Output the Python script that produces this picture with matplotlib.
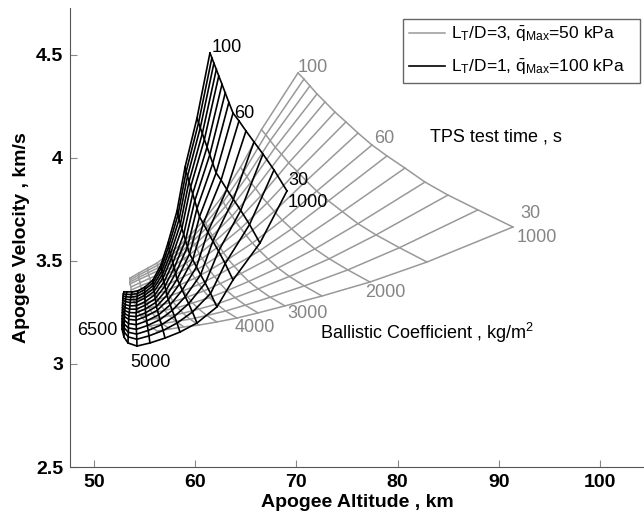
import numpy as np
import matplotlib
matplotlib.use('Agg')
import matplotlib.pyplot as plt
from matplotlib.lines import Line2D

plt.rcParams['font.family'] = ['Liberation Sans', 'DejaVu Sans']
plt.rcParams['mathtext.fontset'] = 'custom'
plt.rcParams['mathtext.rm'] = 'Liberation Sans'
plt.rcParams['mathtext.it'] = 'Liberation Sans'
plt.rcParams['mathtext.bf'] = 'Liberation Sans:bold'

# Carpet parameters.
tps_time = [30, 35, 40, 45, 50, 55, 60, 65, 70, 75, 80, 85, 90, 95, 100]
ballistic = [1000, 1500, 2000, 2500, 3000, 3500, 4000, 4500, 5000, 5500, 6000, 6500]

# Gray carpet (LT/D=3, q=50 kPa), edges.
# beta = 1000 edge, over tps_time
g_b1000_alt = [91.40, 87.94, 84.98, 82.71, 80.73, 78.95, 77.47, 76.09, 74.90, 73.81, 72.83, 72.04, 71.34, 70.75, 70.16]
g_b1000_vel = [3.665, 3.748, 3.820, 3.883, 3.951, 4.010, 4.063, 4.121, 4.175, 4.223, 4.272, 4.311, 4.350, 4.383, 4.413]
# beta = 6500 edge, over tps_time
g_b6500_alt = [56.23, 55.53, 55.04, 54.64, 54.35, 54.15, 53.95, 53.85, 53.75, 53.66, 53.66, 53.56, 53.56, 53.56, 53.56]
g_b6500_vel = [3.160, 3.184, 3.209, 3.233, 3.257, 3.282, 3.306, 3.325, 3.345, 3.359, 3.374, 3.388, 3.398, 3.408, 3.417]
# tps = 30 edge, over ballistic
g_t30_alt = [91.40, 82.91, 77.27, 72.53, 68.87, 66.21, 64.13, 62.15, 60.38, 58.89, 57.51, 56.23]
g_t30_vel = [3.665, 3.495, 3.398, 3.330, 3.282, 3.248, 3.223, 3.204, 3.189, 3.180, 3.170, 3.160]
# tps = 100 edge, over ballistic
g_t100_alt = [70.16, 66.55, 64.48, 62.55, 60.88, 59.53, 58.44, 57.27, 56.23, 55.30, 54.41, 53.56]
g_t100_vel = [4.413, 4.138, 3.955, 3.805, 3.699, 3.627, 3.574, 3.530, 3.490, 3.465, 3.441, 3.417]

# Black carpet (LT/D=1, q=100 kPa).
k_b1000_alt = [69.07, 67.79, 66.70, 65.81, 65.02, 64.33, 63.74, 63.33, 62.97, 62.65, 62.33, 62.09, 61.85, 61.65, 61.46]
k_b1000_vel = [3.840, 3.942, 4.019, 4.078, 4.131, 4.180, 4.218, 4.270, 4.316, 4.358, 4.398, 4.430, 4.460, 4.486, 4.510]
k_b6500_alt = [52.77, 52.77, 52.78, 52.78, 52.79, 52.80, 52.81, 52.82, 52.83, 52.84, 52.85, 52.86, 52.88, 52.90, 52.96]
k_b6500_vel = [3.170, 3.190, 3.205, 3.220, 3.235, 3.250, 3.262, 3.274, 3.286, 3.298, 3.310, 3.320, 3.330, 3.340, 3.350]
k_t30_alt = [69.07, 66.40, 63.74, 62.15, 60.18, 58.50, 57.02, 55.53, 54.25, 53.36, 52.96, 52.77]
k_t30_vel = [3.840, 3.587, 3.408, 3.277, 3.199, 3.155, 3.126, 3.102, 3.087, 3.102, 3.131, 3.170]
k_t100_alt = [61.46, 60.18, 59.00, 58.20, 57.31, 56.62, 55.83, 55.04, 54.35, 53.76, 53.26, 52.96]
k_t100_vel = [4.510, 4.194, 3.956, 3.742, 3.587, 3.481, 3.408, 3.374, 3.355, 3.350, 3.350, 3.350]

gray = '#999999'
gray_txt = '#858585'

fig = plt.figure(figsize=(6.44, 5.19), dpi=100)
ax = fig.add_axes([70 / 644, 52 / 519, 574 / 644, 459 / 519])
ax.set_xlim(47.63, 104.35)
ax.set_ylim(2.5, 4.728)

# Screen aspect of the axes, so the carpet is built in an undistorted frame.
bb = ax.get_window_extent()
aspect = (bb.height / (4.728 - 2.5)) / (bb.width / (104.35 - 47.63))


# Build carpet nodes: every ballistic line takes the shape of the two
# edge lines (beta=1000, beta=6500), stretched between its end nodes.
def carpet(e0a, e0v, e1a, e1v, f0a, f0v, f1a, f1v):
    e0 = np.array(e0a) + 1j * aspect * np.array(e0v)
    e1 = np.array(e1a) + 1j * aspect * np.array(e1v)
    f0 = np.array(f0a) + 1j * aspect * np.array(f0v)
    f1 = np.array(f1a) + 1j * aspect * np.array(f1v)
    nb = len(f0)
    nodes = np.zeros((len(e0), nb), dtype=complex)
    for j in range(nb):
        r = j / (nb - 1)
        z0 = f0[j] + (e0 - e0[0]) * (f1[j] - f0[j]) / (e0[-1] - e0[0])
        z1 = f0[j] + (e1 - e1[0]) * (f1[j] - f0[j]) / (e1[-1] - e1[0])
        nodes[:, j] = (1 - r) * z0 + r * z1
    return np.stack([nodes.real, nodes.imag / aspect], axis=-1)


def draw_carpet(nodes, color, lw):
    for i in range(nodes.shape[0]):
        ax.plot(nodes[i, :, 0], nodes[i, :, 1], color=color, lw=lw)
    for j in range(nodes.shape[1]):
        ax.plot(nodes[:, j, 0], nodes[:, j, 1], color=color, lw=lw)


g_nodes = carpet(g_b1000_alt, g_b1000_vel, g_b6500_alt, g_b6500_vel,
                 g_t30_alt, g_t30_vel, g_t100_alt, g_t100_vel)
k_nodes = carpet(k_b1000_alt, k_b1000_vel, k_b6500_alt, k_b6500_vel,
                 k_t30_alt, k_t30_vel, k_t100_alt, k_t100_vel)
draw_carpet(g_nodes, gray, 1.1)
draw_carpet(k_nodes, 'black', 1.2)


# Tick labels of the carpets.
def node_label(nodes, t, b, text, color, dx, dy, ha='left'):
    p = nodes[tps_time.index(t), ballistic.index(b)]
    ax.annotate(text, xy=(p[0], p[1]), xytext=(dx, dy), textcoords='offset pixels',
                ha=ha, va='baseline', fontsize=13, color=color)

node_label(g_nodes, 100, 1000, '100', gray_txt, 0, 1)
node_label(g_nodes, 60, 1000, '60', gray_txt, 2, 2)
node_label(g_nodes, 30, 1000, '30', gray_txt, 7, 9)
node_label(g_nodes, 30, 1000, '1000', gray_txt, 4, -15)
node_label(g_nodes, 30, 2000, '2000', gray_txt, -5, -15)
node_label(g_nodes, 30, 3000, '3000', gray_txt, 2, -12)
node_label(g_nodes, 30, 4000, '4000', gray_txt, -2, -14)

node_label(k_nodes, 100, 1000, '100', 'black', 2, 1)
node_label(k_nodes, 60, 1000, '60', 'black', 1, -5)
node_label(k_nodes, 30, 1000, '30', 'black', 1, 6)
node_label(k_nodes, 30, 1000, '1000', 'black', 1, -16)
node_label(k_nodes, 30, 5000, '5000', 'black', -7, -21)
node_label(k_nodes, 30, 6500, '6500', 'black', -5, -6, ha='right')

ax.text(83.2, 4.078, 'TPS test time , s', fontsize=13, va='baseline')
ax.text(72.33, 3.121, 'Ballistic Coefficient , kg/m$^2$', fontsize=13, va='baseline')

# Axes.
ax.set_xticks([50, 60, 70, 80, 90, 100])
ax.set_yticks([2.5, 3, 3.5, 4, 4.5])
ax.set_yticklabels(['2.5', '3', '3.5', '4', '4.5'])
ax.spines['top'].set_visible(False)
ax.spines['right'].set_visible(False)
for sp in ['left', 'bottom']:
    ax.spines[sp].set_color('#555555')
ax.tick_params(direction='in', length=5, color='#888888', labelsize=14, pad=5)
for lbl in ax.get_xticklabels() + ax.get_yticklabels():
    lbl.set_fontweight('bold')
ax.set_xlabel('Apogee Altitude , km', fontsize=14, fontweight='bold', labelpad=2)
ax.set_ylabel('Apogee Velocity , km/s', fontsize=14, fontweight='bold', labelpad=4)

handles = [Line2D([], [], color=gray, lw=1.1), Line2D([], [], color='black', lw=1.2)]
labels = [r'L$_{T}$/D=3, $\bar{q}_{Max}$=50 kPa   ', r'L$_{T}$/D=1, $\bar{q}_{Max}$=100 kPa   ']
leg = ax.legend(handles, labels, loc='upper right', bbox_to_anchor=(640 / 644, 1 - 19 / 519),
                bbox_transform=fig.transFigure, borderaxespad=0, fontsize=12.5, fancybox=False,
                framealpha=1, edgecolor='#666666', handlelength=2.1, handletextpad=0.3,
                labelspacing=0.75, borderpad=0.35)
leg.get_frame().set_linewidth(1.0)

fig.savefig('out.png', dpi=100)
